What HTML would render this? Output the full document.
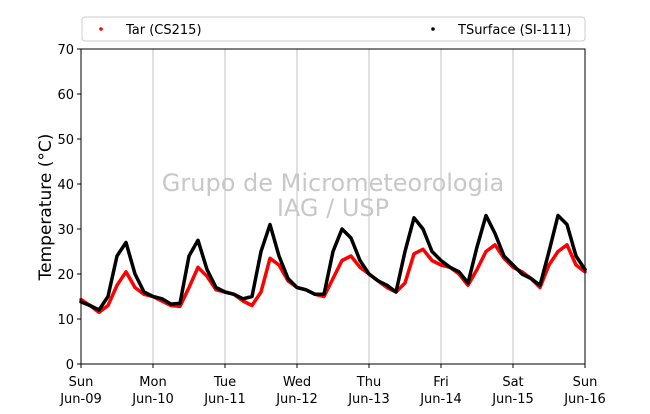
<!DOCTYPE html>
<html><head><meta charset="utf-8"><style>
body{margin:0;background:#fff;font-family:"Liberation Sans","DejaVu Sans",sans-serif}
</style></head><body>
<svg id="chart" width="650" height="409" xmlns="http://www.w3.org/2000/svg" font-family="DejaVu Sans, Liberation Sans, sans-serif">
<g id="grid"></g>
<g id="water">
<text x="333" y="191" text-anchor="middle" font-size="24" fill="#c8c8c8">Grupo de Micrometeorologia</text>
<text x="333" y="216" text-anchor="middle" font-size="24" fill="#c8c8c8">IAG / USP</text>
</g>
<g id="series"></g>
<rect x="81" y="49" width="504" height="315" fill="none" stroke="#000" stroke-width="1"/>
<g id="axes"></g>
<text transform="translate(51,207) rotate(-90)" text-anchor="middle" font-size="17">Temperature (°C)</text>
<g>
<rect x="82" y="17" width="503" height="24" rx="3" fill="#fff" stroke="#ccc"/>
<g><circle cx="101" cy="29" r="1.8" fill="red"/><text x="126" y="34" font-size="13">Tar (CS215)</text></g>
<g><circle cx="433" cy="29" r="1.8" fill="#000"/><text x="458" y="34" font-size="13">TSurface (SI-111)</text></g>
</g>
</svg>
<script>
const dayLabels=["Sun","Mon","Tue","Wed","Thu","Fri","Sat","Sun"];
const dateLabels=["Jun-09","Jun-10","Jun-11","Jun-12","Jun-13","Jun-14","Jun-15","Jun-16"];
const yTicks=[0,10,20,30,40,50,60,70];
// 3-hourly readings starting Sun Jun-09 00h
const tar=[14.3,13,11.5,13,17.5,20.5,17,15.5,
15,14,13,12.8,17,21.5,19.5,16.5,
16,15.5,14,13,16,23.5,22,18.5,
17,16.5,15.5,15,19,23,24,21.5,
20,18.5,17,16,18,24.5,25.5,23,
22,21.5,20,17.5,21,25,26.5,23.5,
21.5,20.5,19,17,22,25,26.5,22,20.5];
const tsurf=[13.8,13,12,15,24,27,20,16,
15,14.5,13.3,13.5,24,27.5,21,17,
16,15.5,14.5,15,25,31,24,19,
17,16.5,15.5,15.5,25,30,28,23,
20,18.5,17.5,16,25,32.5,30,25,
23,21.5,20.5,18,26,33,29,24,
22,20,19,17.5,25,33,31,24,21];
const NS="http://www.w3.org/2000/svg";
const X0=81,X1=585,Y0=364,Y1=49;
const xHours=h=>X0+(X1-X0)*h/168;
const yT=v=>Y0-(Y0-Y1)*v/70;
function mk(t,a,p){const e=document.createElementNS(NS,t);for(const k in a)e.setAttribute(k,a[k]);p.appendChild(e);return e;}
const grid=document.getElementById('grid'),axes=document.getElementById('axes'),ser=document.getElementById('series');
dayLabels.forEach((d,i)=>{
  const x=xHours(i*24);
  if(i>0&&i<7){const g=mk('line',{x1:x,x2:x,y1:Y1,y2:Y0,stroke:'#c0c0c0','stroke-width':1},grid);
  
  }
  const tk=mk('line',{x1:x,x2:x,y1:Y0,y2:Y0+4,stroke:'#000'},axes);
  
  
  const t=mk('text',{x:x,y:386,'text-anchor':'middle','font-size':13},axes);
  
  
  t.textContent=d;
  const t2=mk('text',{x:x,y:403,'text-anchor':'middle','font-size':13},axes);
  
  
  t2.textContent=dateLabels[i];
});
yTicks.forEach(v=>{
  const y=yT(v);
  const tk=mk('line',{x1:X0-4,x2:X0,y1:y,y2:y,stroke:'#000'},axes);
  
  
  const t=mk('text',{x:X0-7,y:y+5,'text-anchor':'end','font-size':13},axes);
  
  
  t.textContent=v;
});
function draw(arr,color,name){
  const pts=arr.map((v,i)=>xHours(i*3).toFixed(1)+','+yT(v).toFixed(1)).join(' ');
  const p=mk('polyline',{points:pts,fill:'none',stroke:color,'stroke-width':3.5,'stroke-linejoin':'round','stroke-linecap':'round'},ser);
  
  
}
draw(tar,'red','tar-series');
draw(tsurf,'#000','tsurface-series');
</script>
</body></html>
